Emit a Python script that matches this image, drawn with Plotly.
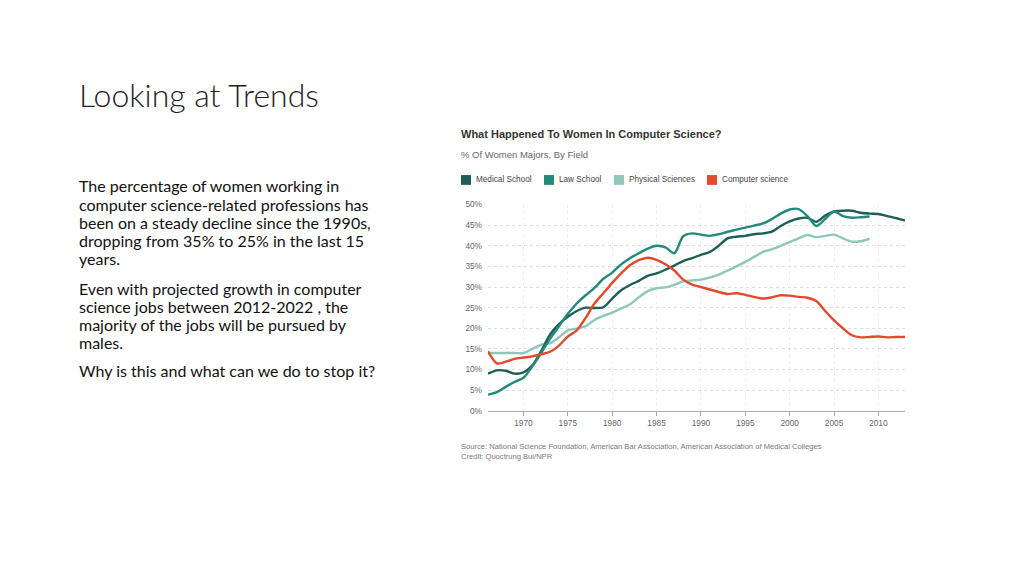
import plotly.graph_objects as go

years = list(range(1966, 2014))

medical_school = [9.0, 9.8, 9.7, 9.0, 9.3, 11.0, 14.5, 18.5, 21.0, 22.8, 24.2, 25.0, 24.9, 25.1,
                  27.2, 29.2, 30.5, 31.5, 32.7, 33.3, 34.2, 35.2, 36.3, 37.0, 37.8, 38.5, 40.0,
                  41.8, 42.2, 42.4, 42.8, 43.0, 43.4, 44.8, 45.9, 46.6, 46.8, 45.8, 47.3, 48.3,
                  48.5, 48.5, 48.0, 47.8, 47.7, 47.2, 46.7, 46.1]
law_school = [3.9, 4.5, 5.8, 7.0, 8.0, 10.8, 14.0, 17.5, 20.5, 23.5, 26.0, 28.0, 29.8, 32.0,
              33.5, 35.5, 37.0, 38.2, 39.3, 40.0, 39.6, 38.2, 42.3, 43.0, 42.7, 42.4, 42.8,
              43.4, 43.9, 44.4, 44.9, 45.4, 46.5, 47.8, 48.8, 48.9, 47.2, 44.8, 46.5, 48.3,
              47.2, 46.8, 46.9, 47.1, None, None, None, None]
physical_sciences = [14.0, 14.0, 14.0, 14.0, 14.0, 15.0, 16.0, 16.4, 17.8, 19.5, 19.9, 20.5, 22.0,
                     23.0, 23.8, 24.8, 25.8, 27.5, 29.0, 29.7, 29.9, 30.5, 31.4, 31.6, 31.8, 32.3,
                     33.0, 34.0, 35.0, 36.1, 37.3, 38.5, 39.2, 40.0, 40.9, 41.8, 42.6, 42.1, 42.4,
                     42.7, 41.8, 41.0, 41.1, 41.7, None, None, None, None]
computer_science = [14.4, 11.5, 11.9, 12.6, 12.9, 13.2, 13.7, 14.3, 15.8, 18.0, 19.5, 22.5, 26.0,
                    28.5, 31.0, 33.3, 35.3, 36.5, 37.1, 36.6, 35.5, 34.0, 31.8, 30.6, 30.0, 29.4,
                    28.8, 28.3, 28.5, 28.1, 27.6, 27.2, 27.5, 28.0, 27.9, 27.6, 27.4, 26.6, 24.2,
                    21.9, 20.0, 18.3, 17.8, 17.9, 18.0, 17.8, 17.9, 17.9]

series_names = ["Medical School", "Law School", "Physical Sciences", "Computer science"]
series_values = [medical_school, law_school, physical_sciences, computer_science]
series_colors = ["#1e5f55", "#22897b", "#8fc7b8", "#e04b2e"]

y_ticks = [0, 5, 10, 15, 20, 25, 30, 35, 40, 45, 50]
y_tick_labels = [f"{v}%" for v in y_ticks]
x_ticks = [1970, 1975, 1980, 1985, 1990, 1995, 2000, 2005, 2010]

slide_title = "Looking at Trends"
paragraph_lines = [
    ["The percentage of women working in",
     "computer science-related professions has",
     "been on a steady decline since the 1990s,",
     "dropping from 35% to 25% in the last 15",
     "years."],
    ["Even with projected growth in computer",
     "science jobs between 2012-2022 , the",
     "majority of the jobs will be pursued by",
     "males."],
    ["Why is this and what can we do to stop it?"],
]
paragraph_tops = [184, 288, 372]
line_step = 18.6

# page body has an 8px margin: figure is sized to fit, coordinates given in page pixels
OFF = 8
W, H = 1024 - 2 * OFF, 576 - 2 * OFF
def px(x):
    return (x - OFF) / W
def py(y):
    return 1 - (y - OFF) / H

fig = go.Figure()
draw_order = [2, 0, 1, 3]
for i in draw_order:
    fig.add_trace(go.Scatter(
        x=years, y=series_values[i], name=series_names[i], mode="lines",
        line=dict(color=series_colors[i], width=2.4, shape="spline", smoothing=0.8),
        connectgaps=False, showlegend=False,
    ))

fig.update_layout(
    width=W, height=H, margin=dict(l=0, r=0, t=0, b=0),
    paper_bgcolor="white", plot_bgcolor="white",
    xaxis=dict(domain=[px(488), px(905)], range=[1966, 2013], tickvals=x_ticks,
               showgrid=True, gridcolor="#efefef", griddash="dot", gridwidth=1,
               zeroline=False, showline=True, linecolor="#aaaaaa", linewidth=1,
               ticks="outside", ticklen=4, tickcolor="#aaaaaa",
               tickfont=dict(family="Liberation Sans", size=8.3, color="#666666")),
    yaxis=dict(domain=[py(413), py(203)], range=[0, 50], tickvals=y_ticks, ticktext=y_tick_labels,
               showgrid=True, gridcolor="#dddddd", griddash="dot", gridwidth=1,
               zeroline=False, showline=False, ticks="", ticklabelstandoff=5,
               tickfont=dict(family="Liberation Sans", size=8.3, color="#666666")),
    showlegend=False,
)

annotations = []
annotations.append(dict(text=slide_title, x=px(77), y=py(91), xref="paper", yref="paper",
                        xanchor="left", yanchor="middle", showarrow=False,
                        font=dict(family="Lato", size=32, color="#222222", weight=300)))
for lines, top in zip(paragraph_lines, paragraph_tops):
    for k, line in enumerate(lines):
        annotations.append(dict(text=line, x=px(77), y=py(top + k * line_step), xref="paper", yref="paper",
                                xanchor="left", yanchor="middle", align="left", showarrow=False,
                                font=dict(family="Lato", size=16, color="#111111")))
annotations.append(dict(text="<b>What Happened To Women In Computer Science?</b>", x=px(459), y=py(131.5),
                        xref="paper", yref="paper", xanchor="left", yanchor="middle", showarrow=False,
                        font=dict(family="Liberation Sans", size=11, color="#333333")))
annotations.append(dict(text="% Of Women Majors, By Field", x=px(459), y=py(152),
                        xref="paper", yref="paper", xanchor="left", yanchor="middle", showarrow=False,
                        font=dict(family="Liberation Sans", size=9.5, color="#666666")))
legend_x = [461, 544, 614, 707]
shapes = []
for name, color, lx in zip(series_names, series_colors, legend_x):
    shapes.append(dict(type="rect", xref="paper", yref="paper", x0=px(lx), x1=px(lx + 10),
                       y0=py(183), y1=py(173), fillcolor=color, line=dict(width=0)))
    annotations.append(dict(text=name, x=px(lx + 13), y=py(178), xref="paper", yref="paper",
                            xanchor="left", yanchor="middle", showarrow=False,
                            font=dict(family="Liberation Sans", size=8.2, color="#444444")))
annotations.append(dict(text="Source: National Science Foundation, American Bar Association, American Association of Medical Colleges<br>Credit: Quoctrung Bui/NPR",
                        x=px(459), y=py(443), xref="paper", yref="paper", xanchor="left", yanchor="top",
                        align="left", showarrow=False,
                        font=dict(family="Liberation Sans", size=7.6, color="#777777")))

fig.update_layout(annotations=annotations, shapes=shapes)
fig.write_html("out.html")
